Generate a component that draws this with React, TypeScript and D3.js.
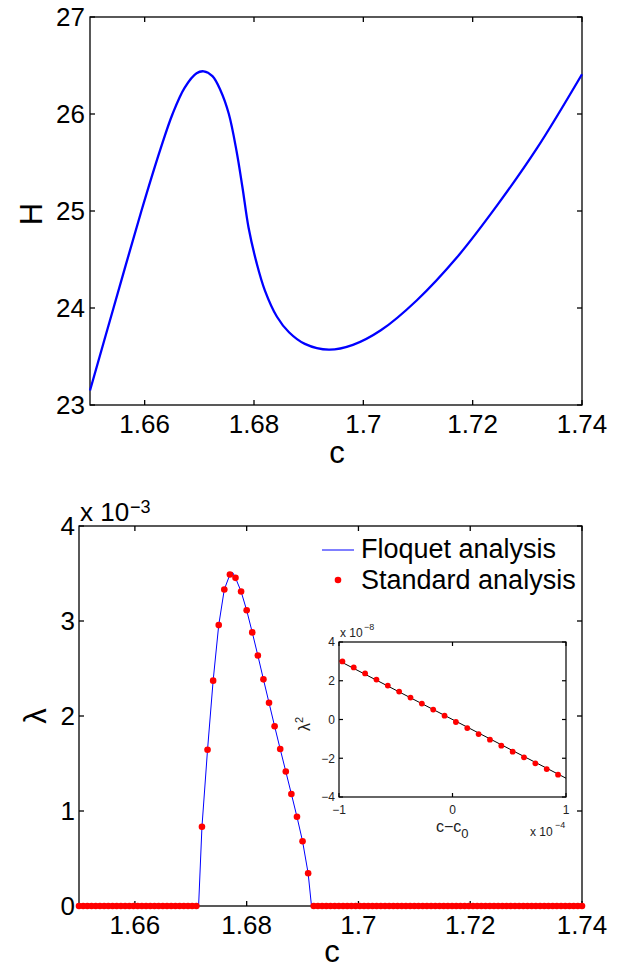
import React from 'react';
import * as d3 from 'd3';

// ---------- data ----------
// Top panel: H versus c
const topC = [1.65, 1.6543, 1.6594, 1.6629, 1.6651, 1.6673, 1.6695, 1.6708, 1.6724, 1.6739, 1.6754, 1.6768, 1.6779, 1.679, 1.6805, 1.682, 1.6842, 1.6864, 1.6893, 1.6937, 1.6981, 1.7032, 1.7098, 1.7171, 1.7245, 1.7318, 1.74];
const topH = [23.15, 24.0, 25.0, 25.64, 26.0, 26.27, 26.42, 26.44, 26.39, 26.24, 26.0, 25.62, 25.24, 24.83, 24.46, 24.18, 23.91, 23.75, 23.63, 23.57, 23.62, 23.77, 24.08, 24.52, 25.06, 25.65, 26.41];
const topXTicks = [1.66, 1.68, 1.7, 1.72, 1.74];
const topYTicks = [23, 24, 25, 26, 27];

// Bottom panel: lambda (x 1e-3) versus c
const floqC = [1.6714, 1.672, 1.673, 1.674, 1.675, 1.676, 1.677, 1.6775, 1.678, 1.679, 1.68, 1.681, 1.682, 1.683, 1.684, 1.685, 1.686, 1.687, 1.688, 1.689, 1.69, 1.691, 1.6916];
const floqL = [0, 0.835, 1.645, 2.372, 2.957, 3.332, 3.489, 3.51, 3.454, 3.311, 3.113, 2.88, 2.637, 2.386, 2.139, 1.892, 1.652, 1.416, 1.179, 0.939, 0.682, 0.344, 0];
const stdPeakC = [1.672, 1.673, 1.674, 1.675, 1.676, 1.677, 1.678, 1.679, 1.68, 1.681, 1.682, 1.683, 1.684, 1.685, 1.686, 1.687, 1.688, 1.689, 1.69, 1.691];
const stdPeakL = [0.835, 1.645, 2.372, 2.957, 3.332, 3.489, 3.454, 3.311, 3.113, 2.88, 2.637, 2.386, 2.139, 1.892, 1.652, 1.416, 1.179, 0.939, 0.682, 0.344];
const stdZeroC = [
  1.65, 1.65075, 1.6515, 1.65225, 1.653, 1.65375, 1.6545, 1.65525, 1.656, 1.65675, 1.6575, 1.65825, 1.659, 1.65975, 1.6605, 1.66125, 1.662, 1.66275, 1.6635, 1.66425, 1.665, 1.66575, 1.6665, 1.66725, 1.668, 1.66875, 1.6695, 1.67025, 1.671,
  1.692, 1.69275, 1.6935, 1.69425, 1.695, 1.69575, 1.6965, 1.69725, 1.698, 1.69875, 1.6995, 1.70025, 1.701, 1.70175, 1.7025, 1.70325, 1.704, 1.70475, 1.7055, 1.70625, 1.707, 1.70775, 1.7085, 1.70925, 1.71, 1.71075, 1.7115, 1.71225, 1.713, 1.71375, 1.7145, 1.71525, 1.716, 1.71675, 1.7175, 1.71825, 1.719, 1.71975, 1.7205, 1.72125, 1.722, 1.72275, 1.7235, 1.72425, 1.725, 1.72575, 1.7265, 1.72725, 1.728, 1.72875, 1.7295, 1.73025, 1.731, 1.73175, 1.7325, 1.73325, 1.734, 1.73475, 1.7355, 1.73625, 1.737, 1.73775, 1.7385, 1.73925, 1.74,
];
const botXTicks = [1.66, 1.68, 1.7, 1.72, 1.74];
const botYTicks = [0, 1, 2, 3, 4];
const legendLabels = ['Floquet analysis', 'Standard analysis'];

// Inset: lambda^2 (x 1e-8) versus c - c0 (x 1e-4)
const insetLineX = [-1, 1];
const insetLineY = [3.03, -3.03];
const insetX = [-0.97, -0.87, -0.77, -0.67, -0.57, -0.47, -0.37, -0.27, -0.17, -0.07, 0.03, 0.13, 0.23, 0.33, 0.43, 0.53, 0.63, 0.73, 0.83, 0.93];
const insetY = [3.0, 2.69, 2.38, 2.06, 1.75, 1.44, 1.13, 0.82, 0.51, 0.2, -0.13, -0.44, -0.75, -1.04, -1.35, -1.66, -1.95, -2.26, -2.56, -2.85];
const insetXTicks = [-1, 0, 1];
const insetYTicks = [-4, -2, 0, 2, 4];

// ---------- helpers ----------
const FONT = '"Liberation Sans", Arial, Helvetica, sans-serif';
const fmt = (t: number) => (t < 0 ? '\u2212' : '') + String(Math.abs(t));

function Axes(props: any) {
  const { xs, ys, xTicks, yTicks, tick, fs, xDy, yDx, fill, sw, color } = props;
  const [x0, x1] = xs.range();
  const [y0, y1] = ys.range();
  return (
    <g>
      <rect x={x0} y={y1} width={x1 - x0} height={y0 - y1} fill={fill || 'none'} stroke="#000" strokeWidth={sw} />
      {xTicks.map((t: number) => (
        <g key={'x' + t}>
          <line x1={xs(t)} x2={xs(t)} y1={y0} y2={y0 - tick} stroke="#000" strokeWidth={sw} />
          <line x1={xs(t)} x2={xs(t)} y1={y1} y2={y1 + tick} stroke="#000" strokeWidth={sw} />
          <text x={xs(t)} y={y0 + xDy} textAnchor="middle" fontSize={fs} fill={color}>{fmt(t)}</text>
        </g>
      ))}
      {yTicks.map((t: number) => (
        <g key={'y' + t}>
          <line x1={x0} x2={x0 + tick} y1={ys(t)} y2={ys(t)} stroke="#000" strokeWidth={sw} />
          <line x1={x1} x2={x1 - tick} y1={ys(t)} y2={ys(t)} stroke="#000" strokeWidth={sw} />
          <text x={x0 - yDx} y={ys(t) + fs * 0.358} textAnchor="end" fontSize={fs} fill={color}>{fmt(t)}</text>
        </g>
      ))}
    </g>
  );
}

export default function App() {
  // top panel scales
  const tx = d3.scaleLinear().domain([1.65, 1.74]).range([90, 582]);
  const ty = d3.scaleLinear().domain([23, 27]).range([405, 17]);
  const topLine = d3.line<number>().x((_, i) => tx(topC[i])).y((d) => ty(d)).curve(d3.curveCatmullRom.alpha(0.5));

  // bottom panel scales
  const bx = d3.scaleLinear().domain([1.65, 1.74]).range([79, 582]);
  const by = d3.scaleLinear().domain([0, 4]).range([906, 526]);
  const floqLine = d3.line<number>().x((_, i) => bx(floqC[i])).y((d) => by(d));

  // inset scales
  const ix = d3.scaleLinear().domain([-1, 1]).range([339, 566]);
  const iy = d3.scaleLinear().domain([-4, 4]).range([797, 642]);
  const insetLine = d3.line<number>().x((_, i) => ix(insetLineX[i])).y((d) => iy(d));

  return (
    <svg width={628} height={969} style={{ position: 'absolute', left: 0, top: 0, background: '#fff' }} fontFamily={FONT}>
      <rect x={0} y={0} width={628} height={969} fill="#fff" />

      {/* ---------- top panel ---------- */}
      <Axes xs={tx} ys={ty} xTicks={topXTicks} yTicks={topYTicks} tick={5} fs={26} xDy={28} yDx={5} sw={1.3} color="#000" />
      <path d={topLine(topH) || ''} fill="none" stroke="#0000ff" strokeWidth={2.3} />
      <text x={337} y={463} textAnchor="middle" fontSize={31}>c</text>
      <text transform="translate(42,214) rotate(-90)" textAnchor="middle" fontSize={31}>H</text>

      {/* ---------- bottom panel ---------- */}
      <Axes xs={bx} ys={by} xTicks={botXTicks} yTicks={botYTicks} tick={5} fs={26} xDy={28} yDx={4} sw={1.3} color="#000" />
      <path d={floqLine(floqL) || ''} fill="none" stroke="#0000ff" strokeWidth={1} />
      {stdZeroC.map((c, i) => (
        <circle key={'z' + i} cx={bx(c)} cy={by(0)} r={3.3} fill="#ff0000" />
      ))}
      {stdPeakC.map((c, i) => (
        <circle key={'p' + i} cx={bx(c)} cy={by(stdPeakL[i])} r={3.3} fill="#ff0000" />
      ))}
      <text x={80} y={521} fontSize={26}>x 10</text>
      <text x={130} y={513} fontSize={18}>{'\u22123'}</text>
      <text x={332} y={962} textAnchor="middle" fontSize={31}>c</text>
      <text transform="translate(46,716) rotate(-90)" textAnchor="middle" fontSize={31}>λ</text>

      {/* legend */}
      <line x1={322} x2={354} y1={550} y2={550} stroke="#0000ff" strokeWidth={1} />
      <text x={361} y={558} fontSize={27}>{legendLabels[0]}</text>
      <circle cx={338} cy={580} r={3.3} fill="#ff0000" />
      <text x={361} y={589} fontSize={27}>{legendLabels[1]}</text>

      {/* ---------- inset ---------- */}
      <Axes xs={ix} ys={iy} xTicks={insetXTicks} yTicks={insetYTicks} tick={4} fs={12} xDy={16.5} yDx={4} sw={1.2} fill="#fff" color="#222" />
      <path d={insetLine(insetLineY) || ''} fill="none" stroke="#000" strokeWidth={1} />
      {insetX.map((x, i) => (
        <circle key={'i' + i} cx={ix(x)} cy={iy(insetY[i])} r={2.9} fill="#ff0000" />
      ))}
      <text x={340} y={637} fontSize={12} fill="#222">x 10</text>
      <text x={364} y={630} fontSize={9} fill="#222">{'\u22128'}</text>
      <text x={530} y={836} fontSize={12} fill="#222">x 10</text>
      <text x={555} y={828} fontSize={9} fill="#222">{'\u22124'}</text>
      <text x={436} y={832} fontSize={16} fill="#222">c{'\u2212'}c<tspan dy={6} fontSize={13}>0</tspan></text>
      <text transform="translate(310,731) rotate(-90)" fontSize={16} fill="#222">λ<tspan dy={-7} fontSize={11}>2</tspan></text>
    </svg>
  );
}
